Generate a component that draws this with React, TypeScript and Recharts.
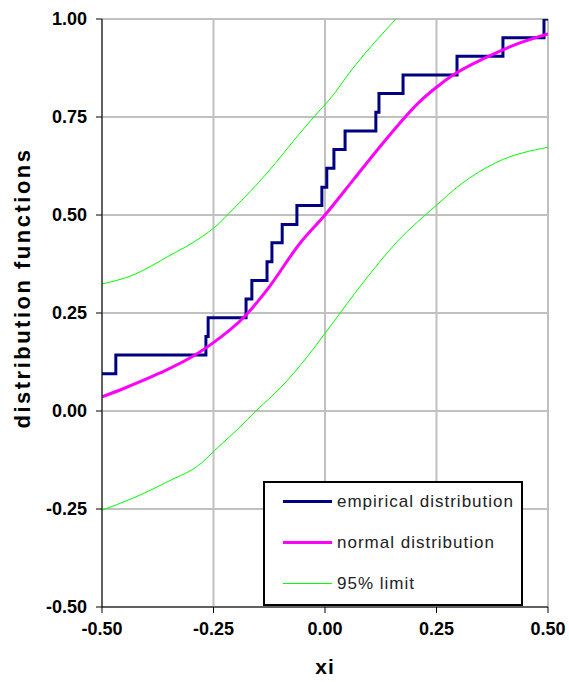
import React from "react";
import {
  LineChart,
  Line,
  XAxis,
  YAxis,
  CartesianGrid,
  Legend,
} from "recharts";

// empirical distribution (step after each x)
const empX = [-0.5, -0.469, -0.267, -0.262, -0.177, -0.164, -0.13, -0.119, -0.096, -0.063, -0.007, 0.004, 0.02, 0.045, 0.114, 0.121, 0.175, 0.296, 0.399, 0.491, 0.5];
const empY = [0.095, 0.143, 0.19, 0.238, 0.286, 0.333, 0.381, 0.429, 0.476, 0.524, 0.571, 0.619, 0.667, 0.714, 0.762, 0.81, 0.857, 0.905, 0.952, 1.0, 1.0];

// normal distribution
const normX = [-0.5, -0.45, -0.37, -0.303, -0.258, -0.177, -0.13, -0.056, 0.0, 0.063, 0.139, 0.213, 0.25, 0.287, 0.363, 0.437, 0.5];
const normY = [0.036, 0.058, 0.097, 0.135, 0.168, 0.245, 0.309, 0.428, 0.5, 0.589, 0.696, 0.79, 0.826, 0.857, 0.903, 0.939, 0.962];

// 95% limits
const upX = [-0.5, -0.43, -0.354, -0.274, -0.247, -0.206, -0.13, -0.056, -0.011, 0.009, 0.063, 0.159];
const upY = [0.324, 0.347, 0.393, 0.446, 0.469, 0.515, 0.607, 0.709, 0.768, 0.793, 0.875, 1.0];
const loX = [-0.5, -0.43, -0.354, -0.274, -0.247, -0.197, -0.152, -0.101, -0.04, 0.011, 0.085, 0.161, 0.251, 0.303, 0.386, 0.5];
const loY = [-0.253, -0.222, -0.181, -0.13, -0.1, -0.048, 0.003, 0.058, 0.138, 0.215, 0.327, 0.431, 0.526, 0.577, 0.635, 0.673];

const ticks = [-0.5, -0.25, 0, 0.25, 0.5];
const yTicks = [-0.5, -0.25, 0, 0.25, 0.5, 0.75, 1.0];

const legendNames = ["empirical distribution", "normal distribution", "95% limit"];
const legendColors = ["#000080", "#ff00ff", "#00ff00"];
const legendWidths = [3, 3, 1];

const zip = (xs: number[], ys: number[]) => xs.map((x, i) => ({ x, y: ys[i] }));

const empData = zip(empX, empY);
const normData = zip(normX, normY);
const upData = zip(upX, upY);
const loData = zip(loX, loY);

const font = "'Liberation Sans', Arial, sans-serif";
const tickStyle = { fontFamily: font, fontSize: 18, fontWeight: 700, fill: "#000" };

const LegendBox = () => (
  <div
    style={{
      width: 260,
      height: 125,
      border: "2px solid #000",
      background: "#fff",
      boxSizing: "border-box",
    }}
  >
    {legendNames.map((name, i) => (
      <div key={name} style={{ display: "flex", alignItems: "center", height: 41, marginTop: i === 0 ? -2 : 0 }}>
        <svg width={49} height={5} style={{ marginLeft: 18, display: "block" }}>
          <line x1={0} x2={49} y1={2.5} y2={2.5} stroke={legendColors[i]} strokeWidth={legendWidths[i]} />
        </svg>
        <span style={{ marginLeft: 5, fontFamily: font, fontSize: 17, letterSpacing: 1, color: "#222", lineHeight: "18px" }}>{name}</span>
      </div>
    ))}
  </div>
);

const YTitle = () => (
  <text
    x={22}
    y={288}
    transform="rotate(-90 22 288)"
    textAnchor="middle"
    dominantBaseline="central"
    style={{ fontFamily: font, fontSize: 22, fontWeight: 700, letterSpacing: 2.5, fill: "#000" }}
  >
    distribution functions
  </text>
);

export default function App() {
  return (
    <div style={{ position: "absolute", left: 0, top: 0 }}>
      <LineChart width={569} height={682} margin={{ top: 19, right: 21, left: 0, bottom: 0 }}>
        <CartesianGrid stroke="#c0c0c0" strokeWidth={2} />
        <XAxis
          dataKey="x"
          type="number"
          domain={[-0.5, 0.5]}
          ticks={ticks}
          tickFormatter={(v) => v.toFixed(2)}
          tick={tickStyle}
          tickSize={6}
          tickMargin={9}
          stroke="#000"
          height={75}
          allowDataOverflow
          label={{ value: "xi", position: "insideBottom", offset: 8, style: { fontFamily: font, fontSize: 21, fontWeight: 700, letterSpacing: 1, fill: "#000" } }}
        />
        <YAxis
          dataKey="y"
          type="number"
          domain={[-0.5, 1]}
          ticks={yTicks}
          tickFormatter={(v) => v.toFixed(2)}
          tick={tickStyle}
          tickSize={6}
          tickMargin={9}
          stroke="#000"
          width={102}
          allowDataOverflow
          label={<YTitle />}
        />
        <Legend
          layout="vertical"
          align="center"
          verticalAlign="middle"
          content={<LegendBox />}
          wrapperStyle={{ position: "absolute", left: 263, top: 481, width: 260 }}
        />
        <Line data={empData} dataKey="y" name="empirical distribution" type="stepAfter" stroke="#000080" strokeWidth={3} dot={false} isAnimationActive={false} />
        <Line data={normData} dataKey="y" name="normal distribution" type="monotone" stroke="#ff00ff" strokeWidth={3} dot={false} isAnimationActive={false} />
        <Line data={upData} dataKey="y" name="95% limit" type="monotone" stroke="#00ff00" strokeWidth={1} dot={false} isAnimationActive={false} />
        <Line data={loData} dataKey="y" name="95% lower" legendType="none" type="monotone" stroke="#00ff00" strokeWidth={1} dot={false} isAnimationActive={false} />
      </LineChart>
    </div>
  );
}
